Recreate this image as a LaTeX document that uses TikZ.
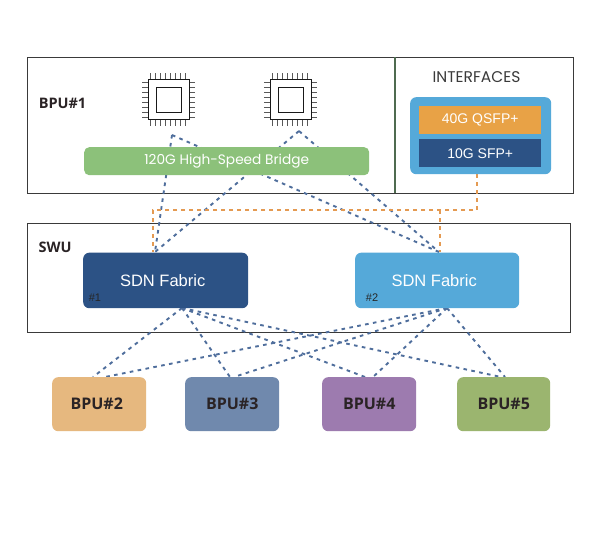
\documentclass[tikz,border=0pt]{standalone}
\usepackage{fontspec}
\setmainfont{Liberation Sans}
\newfontfamily\geofont{Poppins}
\newfontfamily\boldfont{Open Sans}
\definecolor{frameC}{HTML}{3A3A3A}
\definecolor{dividerC}{HTML}{4F6B50}
\definecolor{dashB}{HTML}{4F6E9C}
\definecolor{dashO}{HTML}{E49A52}
\definecolor{bridgeC}{HTML}{8CC17A}
\definecolor{darkB}{HTML}{2C5285}
\definecolor{lightB}{HTML}{55A9D9}
\definecolor{oranC}{HTML}{E8A246}
\definecolor{bpuA}{HTML}{E6B87F}
\definecolor{bpuB}{HTML}{7089AD}
\definecolor{bpuC}{HTML}{9D7BAF}
\definecolor{bpuD}{HTML}{9BB56F}
\definecolor{txtC}{HTML}{2A2325}
\tikzset{
  x=1pt,y=-1pt,
  frame/.style={draw=frameC,line width=1pt,fill=white},
  pxbox/.style args={#1/#2/#3}{rounded corners=#3,fill=#1,text=#2,inner sep=0pt,align=center},
  dashblue/.style={draw=dashB,line width=1.9pt,dash pattern=on 3.6pt off 4.4pt},
  dashorange/.style={draw=dashO,line width=1.9pt,dash pattern=on 3.6pt off 4.4pt},
  bpulabel/.style={font=\boldfont\bfseries\fontsize{16}{18}\selectfont,text=txtC},
  pin/.style={draw=black!65,line width=1.3pt},
  chipbody/.style={draw=black!90,line width=1.1pt,fill=white},
}
\newcommand{\boxat}[7]{% name, x1,y1,x2,y2, style, text
  \node[#6,minimum width={#4pt-#2pt},minimum height={#5pt-#3pt},anchor=north west] (#1) at (#2,#3) {#7};}
\newcommand{\chipat}[2]{% left x of body, name
  \foreach \i in {0,...,7}{
    \draw[pin] (#1+2.5+5*\i,73) -- (#1+2.5+5*\i,79);
    \draw[pin] (#1+2.5+5*\i,119) -- (#1+2.5+5*\i,126);
    \draw[pin] (#1-6,82.5+5*\i) -- (#1,82.5+5*\i);
    \draw[pin] (#1+41,82.5+5*\i) -- (#1+47,82.5+5*\i);
  }
  \node[chipbody,minimum width=41pt,minimum height=40pt,inner sep=0pt,anchor=north west] (#2) at (#1,79) {};
  \node[chipbody,minimum width=25.5pt,minimum height=25pt,inner sep=0pt] (#2core) at (#2.center) {};
}
\begin{document}
\begin{tikzpicture}
\useasboundingbox[fill=white] (0,0) rectangle (598,549);
% frames
\draw[frame] (27,57) rectangle (573,193);
\draw[frame] (27,223) rectangle (570,332);
\draw[draw=dividerC,line width=1.4pt] (395,57) -- (395,193);
\node[font=\boldfont\bfseries\fontsize{14.5}{16}\selectfont,text=txtC] (bpuonelabel) at (62.5,103) {BPU\#1};
\node[font=\boldfont\bfseries\fontsize{14.5}{16}\selectfont,text=txtC] (swulabel) at (55,247) {SWU};
\node[font=\geofont\fontsize{15.5}{17}\selectfont,text=frameC] (iflabel) at (476.5,77) {INTERFACES};
% anchors for the connectors
\coordinate (apexA) at (172,135);
\coordinate (apexB) at (299,131);
\coordinate (inA) at (155,252);
\coordinate (inB) at (439,252);
\coordinate (outA) at (182,308);
\coordinate (outB) at (447,308);
\coordinate (top2a) at (93,377);
\coordinate (top2b) at (105,377);
\coordinate (top3a) at (230,377);
\coordinate (top3b) at (234,377);
\coordinate (top4a) at (365,377);
\coordinate (top4b) at (373,377);
\coordinate (top5a) at (501,377);
\coordinate (top5b) at (505,377);
\coordinate (ifout) at (477,174);
\coordinate (bendO) at (477,210);
\coordinate (branchO) at (440,210);
\coordinate (bendL) at (153,210);
\coordinate (orA) at (153,252);
\coordinate (orB) at (440,252);
% connectors (behind the boxes)
\draw[dashblue] (apexA) -- (inA);
\draw[dashblue] (apexA) -- (inB);
\draw[dashblue] (apexB) -- (inA);
\draw[dashblue] (apexB) -- (inB);
\draw[dashorange] (ifout) -- (bendO) -- (bendL) -- (orA);
\draw[dashorange] (branchO) -- (orB);
\draw[dashblue] (outA) -- (top2a);
\draw[dashblue] (outA) -- (top3a);
\draw[dashblue] (outA) -- (top4a);
\draw[dashblue] (outA) -- (top5a);
\draw[dashblue] (outB) -- (top2b);
\draw[dashblue] (outB) -- (top3b);
\draw[dashblue] (outB) -- (top4b);
\draw[dashblue] (outB) -- (top5b);
% chips
\chipat{148}{chipA}
\chipat{270}{chipB}
% bridge
\boxat{bridge}{84}{147}{369}{175}{pxbox=bridgeC/white/5pt,font=\geofont\fontsize{13.7}{16}\selectfont}{\raisebox{-1pt}{120G High-Speed Bridge}}
% interfaces
\boxat{ifbox}{410}{97}{551}{174}{pxbox=lightB/white/6pt}{}
\boxat{qsfp}{419}{106}{541}{134}{pxbox=oranC/white/0pt,font=\fontsize{14}{16}\selectfont}{40G QSFP+}
\boxat{sfp}{419}{139}{541}{167}{pxbox=darkB/white/0pt,font=\fontsize{14}{16}\selectfont}{10G SFP+}
% fabrics
\boxat{sdnA}{83}{252.5}{248}{308}{pxbox=darkB/white/6pt,font=\fontsize{16.5}{18}\selectfont}{SDN Fabric\hspace*{6pt}}
\boxat{sdnB}{355}{252.5}{519}{308}{pxbox=lightB/white/6pt,font=\fontsize{16.5}{18}\selectfont}{SDN Fabric\hspace*{6pt}}
\node[font=\fontsize{11}{13}\selectfont,text=black!85] (numA) at (95,298) {\#1};
\node[font=\fontsize{11}{13}\selectfont,text=black!85] (numB) at (372,298) {\#2};
% BPUs
\boxat{bpuTwo}{52}{377}{146}{431}{pxbox=bpuA/txtC/6pt,bpulabel}{BPU\#2\hspace*{5pt}}
\boxat{bpuThree}{185}{377}{279}{431}{pxbox=bpuB/txtC/6pt,bpulabel}{BPU\#3}
\boxat{bpuFour}{322}{377}{416}{431}{pxbox=bpuC/txtC/6pt,bpulabel}{BPU\#4}
\boxat{bpuFive}{457}{377}{550}{431}{pxbox=bpuD/txtC/6pt,bpulabel}{BPU\#5}
\end{tikzpicture}
\end{document}
